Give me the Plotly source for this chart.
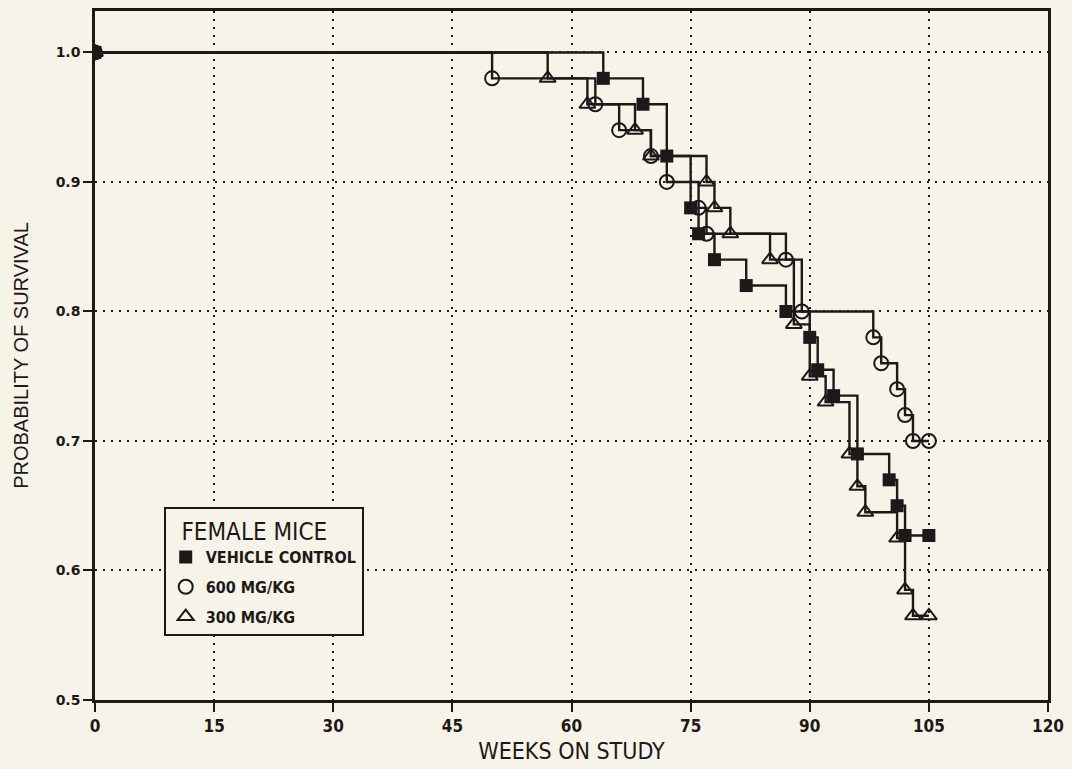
import plotly.graph_objects as go

# Kaplan-Meier survival estimates, female mice
vehicle_weeks = [0, 64, 69, 72, 75, 76, 78, 82, 87, 90, 91, 93, 96, 100, 101, 102, 105]
vehicle_surv = [1.0, 0.98, 0.96, 0.92, 0.88, 0.86, 0.84, 0.82, 0.80, 0.78, 0.755, 0.735,
                0.69, 0.67, 0.65, 0.627, 0.627]

dose600_weeks = [0, 50, 63, 66, 70, 72, 76, 77, 87, 89, 98, 99, 101, 102, 103, 105]
dose600_surv = [1.0, 0.98, 0.96, 0.94, 0.92, 0.90, 0.88, 0.86, 0.84, 0.80, 0.78, 0.76,
                0.74, 0.72, 0.70, 0.70]

dose300_weeks = [0, 57, 62, 68, 70, 77, 78, 80, 85, 88, 90, 92, 95, 96, 97, 101, 102, 103, 105]
dose300_surv = [1.0, 0.98, 0.96, 0.94, 0.92, 0.90, 0.88, 0.86, 0.84, 0.79, 0.75, 0.73,
                0.69, 0.665, 0.645, 0.625, 0.585, 0.565, 0.565]

x_ticks = [0, 15, 30, 45, 60, 75, 90, 105, 120]
y_ticks = [0.5, 0.6, 0.7, 0.8, 0.9, 1.0]
y_tick_text = ["0.5", "0.6", "0.7", "0.8", "0.9", "1.0"]

INK = "#1e1818"
BG = "#f6f3e8"

series = [
    ("300 MG/KG", dose300_weeks, dose300_surv,
     dict(symbol="triangle-up-open", size=14, color=INK, line=dict(width=2, color=INK))),
    ("600 MG/KG", dose600_weeks, dose600_surv,
     dict(symbol="circle-open", size=14, color=INK, line=dict(width=2, color=INK))),
    ("VEHICLE CONTROL", vehicle_weeks, vehicle_surv,
     dict(symbol="square", size=13, color=INK, line=dict(width=0))),
]

fig = go.Figure()
for name, wx, sy, mk in series:
    fig.add_trace(go.Scatter(
        x=wx, y=sy, mode="lines+markers", line=dict(shape="hv", color=INK, width=2.4),
        marker=mk, showlegend=False, hoverinfo="skip"))

# legend-only entries (marker symbols without the step line)
for name, wx, sy, mk in reversed(series):
    fig.add_trace(go.Scatter(x=[None], y=[None], mode="markers", name=name,
                             legendgroup=name, marker=mk))

fig.update_layout(
    width=1072, height=769,
    margin=dict(l=95, r=20, t=8, b=69),
    paper_bgcolor=BG, plot_bgcolor=BG,
    showlegend=True,
    legend=dict(
        x=(164 - 95) / 957, y=(700 - 506) / 692, xanchor="left", yanchor="top",
        bgcolor=BG, bordercolor=INK, borderwidth=2,
        font=dict(family="DejaVu Sans Condensed", size=16, color=INK, weight="bold"),
        title=dict(text="\u00a0\u00a0FEMALE MICE",
                   font=dict(family="DejaVu Sans Condensed", size=24, color=INK, weight="normal")),
        itemwidth=30, tracegroupgap=6, traceorder="grouped",
    ),
)

fig.update_xaxes(
    range=[0, 120], tickvals=x_ticks, ticktext=[str(v) for v in x_ticks],
    showline=True, linecolor=INK, linewidth=2.5, mirror=True,
    ticks="outside", ticklen=9, tickwidth=2, tickcolor=INK,
    tickfont=dict(family="DejaVu Sans Condensed", size=17, color=INK, weight="bold"),
    showgrid=True, gridcolor=INK, gridwidth=2, griddash="2px,6px",
    zeroline=False,
    title=dict(text="WEEKS ON STUDY", standoff=8,
               font=dict(family="DejaVu Sans Condensed", size=23, color=INK)),
)

fig.update_yaxes(
    range=[0.5, 1.032], tickvals=y_ticks, ticktext=y_tick_text,
    showline=True, linecolor=INK, linewidth=2.5, mirror=True,
    ticks="outside", ticklen=9, tickwidth=2, tickcolor=INK,
    tickfont=dict(family="DejaVu Sans", size=14, color=INK, weight="bold"),
    showgrid=True, gridcolor=INK, gridwidth=2, griddash="2px,6px",
    zeroline=False,
    title=dict(text="PROBABILITY OF SURVIVAL", standoff=22,
               font=dict(family="Liberation Sans", size=20, color=INK)),
)

fig.write_html("out.html")
